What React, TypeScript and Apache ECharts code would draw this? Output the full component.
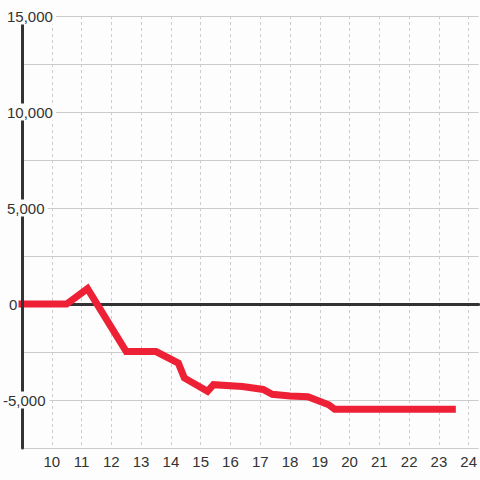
import React, { useEffect, useRef } from 'react';
import * as echarts from 'echarts';

// Data
const xValues = [9, 10.5, 11.2, 12.5, 13.5, 14.25, 14.45, 15.23, 15.43, 16.4, 17.1, 17.4, 18.0, 18.6, 19.3, 19.5, 23.45];
const yValues = [0, 0, 800, -2480, -2480, -3080, -3850, -4550, -4200, -4300, -4450, -4700, -4790, -4830, -5250, -5480, -5480];
const yTickLabels = [15000, 10000, 5000, 0, -5000];
const xTickLabels = [10, 11, 12, 13, 14, 15, 16, 17, 18, 19, 20, 21, 22, 23, 24];

const X_MIN = 9;
const X_MAX = 9 + 460 / 30;
const Y_MIN = -7500;
const Y_MAX = 15000;

const BG = '#fcfdfc';
const TEXT = '#333333';
const FONT = 'Liberation Sans, Arial, sans-serif';

export default function App() {
  const ref = useRef<HTMLDivElement>(null);
  useEffect(() => {
    if (!ref.current) return;
    const chart = echarts.init(ref.current, undefined, { renderer: 'svg' });
    const seriesData = xValues.map((x, i) => [x, yValues[i]]);
    const tokenStyle = { fontSize: 15, fontFamily: FONT, color: TEXT };
    chart.setOption({
      animation: false,
      backgroundColor: BG,
      grid: { left: 20, right: 0, top: 16, bottom: 32, containLabel: false },
      xAxis: [
        {
          type: 'value',
          min: X_MIN,
          max: X_MAX,
          interval: 1,
          position: 'bottom',
          axisLine: { show: false, onZero: false },
          axisTick: { show: false },
          axisLabel: {
            show: true,
            margin: 6,
            fontSize: 15,
            fontFamily: FONT,
            color: TEXT,
            showMinLabel: false,
            showMaxLabel: false,
            formatter: (v: number) => (xTickLabels.includes(v) ? String(v) : ''),
          },
          splitLine: {
            show: true,
            showMinLine: false,
            showMaxLine: false,
            lineStyle: { color: '#cccccc', width: 1, type: [3, 3] },
          },
          z: 0,
        },
        {
          type: 'value',
          min: X_MIN,
          max: X_MAX,
          interval: 1,
          position: 'bottom',
          axisLine: { show: true, onZero: true, lineStyle: { color: '#333333', width: 3 } },
          axisTick: { show: false },
          axisLabel: { show: false },
          splitLine: { show: false },
          z: 1,
        },
      ],
      yAxis: [
        {
          type: 'value',
          min: Y_MIN,
          max: Y_MAX,
          interval: 2500,
          position: 'left',
          axisLine: { show: false },
          axisTick: { show: false },
          axisLabel: { show: false },
          splitLine: { show: true, lineStyle: { color: '#cccccc', width: 1 } },
          z: 0,
        },
        {
          type: 'value',
          min: Y_MIN,
          max: Y_MAX,
          interval: 2500,
          position: 'left',
          axisLine: { show: true, onZero: false, lineStyle: { color: '#333333', width: 3 } },
          axisTick: { show: false },
          splitLine: { show: false },
          axisLabel: {
            show: true,
            align: 'left',
            margin: 19,
            backgroundColor: BG,
            padding: [1, 0, 1, 0],
            fontSize: 15,
            fontFamily: FONT,
            color: TEXT,
            formatter: (v: number) => {
              if (!yTickLabels.includes(v)) return '';
              const s = v.toLocaleString('en-US');
              if (v < 0) return `{n|${s}}`;
              if (v === 0) return `{z|${s}}`;
              return `{p|${s}}`;
            },
            rich: {
              n: { ...tokenStyle, padding: [0, 4, 0, 0] },
              p: { ...tokenStyle, padding: [0, 3, 0, 4] },
              z: { ...tokenStyle, padding: [0, 0, 0, 6] },
            },
          },
          z: 5,
        },
      ],
      series: [
        {
          type: 'line',
          xAxisIndex: 0,
          yAxisIndex: 0,
          data: seriesData,
          showSymbol: false,
          symbol: 'none',
          clip: false,
          z: 2,
          lineStyle: { color: '#ee2035', width: 7, cap: 'square', join: 'miter' },
        },
      ],
    });
    return () => chart.dispose();
  }, []);
  return (
    <div
      ref={ref}
      style={{ position: 'absolute', left: 0, top: 0, width: 480, height: 480 }}
    />
  );
}
